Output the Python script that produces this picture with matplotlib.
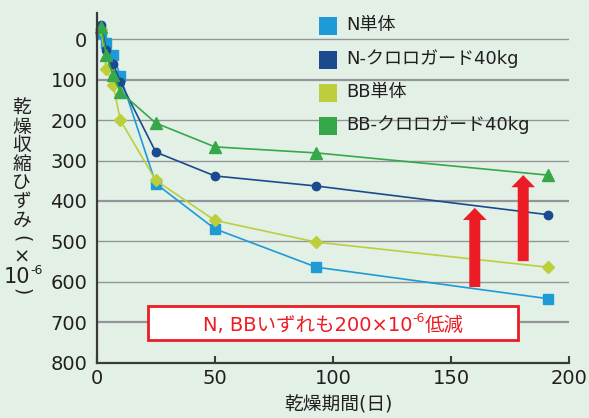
import matplotlib
matplotlib.use("Agg")
import matplotlib.pyplot as plt
from matplotlib.patches import Rectangle, FancyArrow
from matplotlib.transforms import Affine2D

# ---------------- data ----------------
days = [2, 4, 7, 10, 25, 50, 93, 191]
n_plain = [-15, 10, 39, 91, 357, 469, 564, 642]
n_cg = [-35, 26, 61, 105, 279, 338, 363, 434]
bb_plain = [-25, 72, 113, 200, 349, 448, 502, 564]
bb_cg = [-31, 39, 88, 130, 207, 266, 281, 336]

series_names = ["N単体", "N-クロロガード40kg", "BB単体", "BB-クロロガード40kg"]
x_ticks = [0, 50, 100, 150, 200]
y_ticks = [0, 100, 200, 300, 400, 500, 600, 700, 800]
xlabel = "乾燥期間(日)"
ylabel_chars = ["乾", "燥", "収", "縮", "ひ", "ず", "み"]
note_main = "N, BBいずれも200×10"
note_sup = "-6"
note_tail = "低減"
# arrows: (day, from value, to value)
arrows = [(160, 613, 417), (180.5, 549, 336)]

# ---------------- style ----------------
W, H = 589, 418
BG = "#E2F0E6"
C_NP = "#1E9AD6"
C_NC = "#1B4A8F"
C_BP = "#BDCE3C"
C_BC = "#36A84A"
RED = "#EC1C24"
GRID = "#939598"
DARK = "#231F20"
SPINE = "#3A3A3A"

plt.rcParams["font.family"] = ["DejaVu Sans", "Noto Sans CJK JP"]

fig = plt.figure(figsize=(W / 100, H / 100), dpi=100, facecolor=BG)
ax = fig.add_axes([96.7 / W, 1 - 362.5 / H, (569.3 - 96.7) / W, (362.5 - 13.2) / H])
ax.set_facecolor(BG)
ax.set_xlim(0, 200)
ax.set_ylim(800, -65)

PX = Affine2D().scale(1, -1).translate(0, H)  # top-left pixel coords

# gridlines
for v in y_ticks[:-1]:
    lw = 1.6 if v in (100, 400, 700) else 1.0
    ax.axhline(v, color=GRID, lw=lw, zorder=1)

for sp in ["top", "right"]:
    ax.spines[sp].set_visible(False)
for sp in ["left", "bottom"]:
    ax.spines[sp].set_color(SPINE)
    ax.spines[sp].set_linewidth(1.6)
    ax.spines[sp].set_zorder(6)

ax.set_xticks(x_ticks)
ax.set_yticks(y_ticks)
ax.tick_params(axis="x", direction="in", length=5, width=1.5, color=SPINE,
               labelsize=14, labelcolor=DARK, pad=5)
ax.tick_params(axis="y", length=0, labelsize=14, labelcolor=DARK, pad=6.8)

# series
ax.plot(days, n_plain, color=C_NP, lw=1.2, marker="s", ms=6.5, mec=C_NP, mfc=C_NP,
        zorder=3, clip_on=False)
ax.plot(days, bb_plain, color=C_BP, lw=1.2, marker="D", ms=6, mec=C_BP, mfc=C_BP,
        zorder=3, clip_on=False)
ax.plot(days, n_cg, color=C_NC, lw=1.2, marker="o", ms=6, mec=C_NC, mfc=C_NC,
        zorder=4, clip_on=False)
ax.plot(days, bb_cg, color=C_BC, lw=1.2, marker="^", ms=8, mec=C_BC, mfc=C_BC,
        zorder=4, clip_on=False)

# arrows
for xd, y0, y1 in arrows:
    ax.add_patch(FancyArrow(xd, y0, 0, y1 - y0, width=4.65, head_width=10,
                            head_length=30, length_includes_head=True,
                            color=RED, lw=0, zorder=5))

# note box
ax.add_patch(Rectangle((21.8, 661), 156.6, 83, facecolor="white", edgecolor=RED,
                       lw=2, zorder=6))

fig.canvas.draw()
renderer = fig.canvas.get_renderer()


def runs_text(x, y, runs, color, ha="center"):
    widths = []
    for s, fs, rise in runs:
        t = fig.text(0, 0, s, fontsize=fs)
        widths.append(t.get_window_extent(renderer).width)
        t.remove()
    x0 = x - sum(widths) / 2 if ha == "center" else x
    for (s, fs, rise), w in zip(runs, widths):
        fig.text(x0, y - rise, s, fontsize=fs, color=color, va="baseline",
                 ha="left", transform=PX, zorder=10)
        x0 += w


# note text (center of box)
cx, cy = ax.transData.transform((100, 702.5))
runs_text(cx, H - cy + 7.5,
          [(note_main, 14, 0), (note_sup, 9, 8.5), (note_tail, 14, 0)], RED)

# legend (manual)
leg_colors = [C_NP, C_NC, C_BP, C_BC]
leg_y = [26, 60, 92.7, 126]
for name, col, yy in zip(series_names, leg_colors, leg_y):
    fig.patches.append(Rectangle((319, yy + 8.8), 17.7, -17.7, transform=PX,
                                 facecolor=col, edgecolor="none", figure=fig))
    fig.text(346.7, yy - 1, name, fontsize=13, color=DARK, va="center",
             ha="left", transform=PX)

# x label
fig.text(338, 405, xlabel, fontsize=13.5, color=DARK, ha="center", va="center",
         transform=PX)

# y label (vertical stacked)
for i, ch in enumerate(ylabel_chars):
    fig.text(21.7, 108.7 + i * 18.55, ch, fontsize=13.5, color=DARK, ha="center",
             va="center", transform=PX)
fig.text(21.7, 239, "(", fontsize=13.5, color=DARK, ha="center", va="center",
         rotation=-90, transform=PX)
fig.text(21.7, 257.3, "×", fontsize=14, color=DARK, ha="center", va="center",
         transform=PX)
runs_text(23.3, 283.3, [("10", 15, 0), ("-6", 9, 9)], DARK)
fig.text(21.7, 291.7, ")", fontsize=13.5, color=DARK, ha="center", va="center",
         rotation=-90, transform=PX)

fig.savefig("out.png", dpi=100, facecolor=BG)
